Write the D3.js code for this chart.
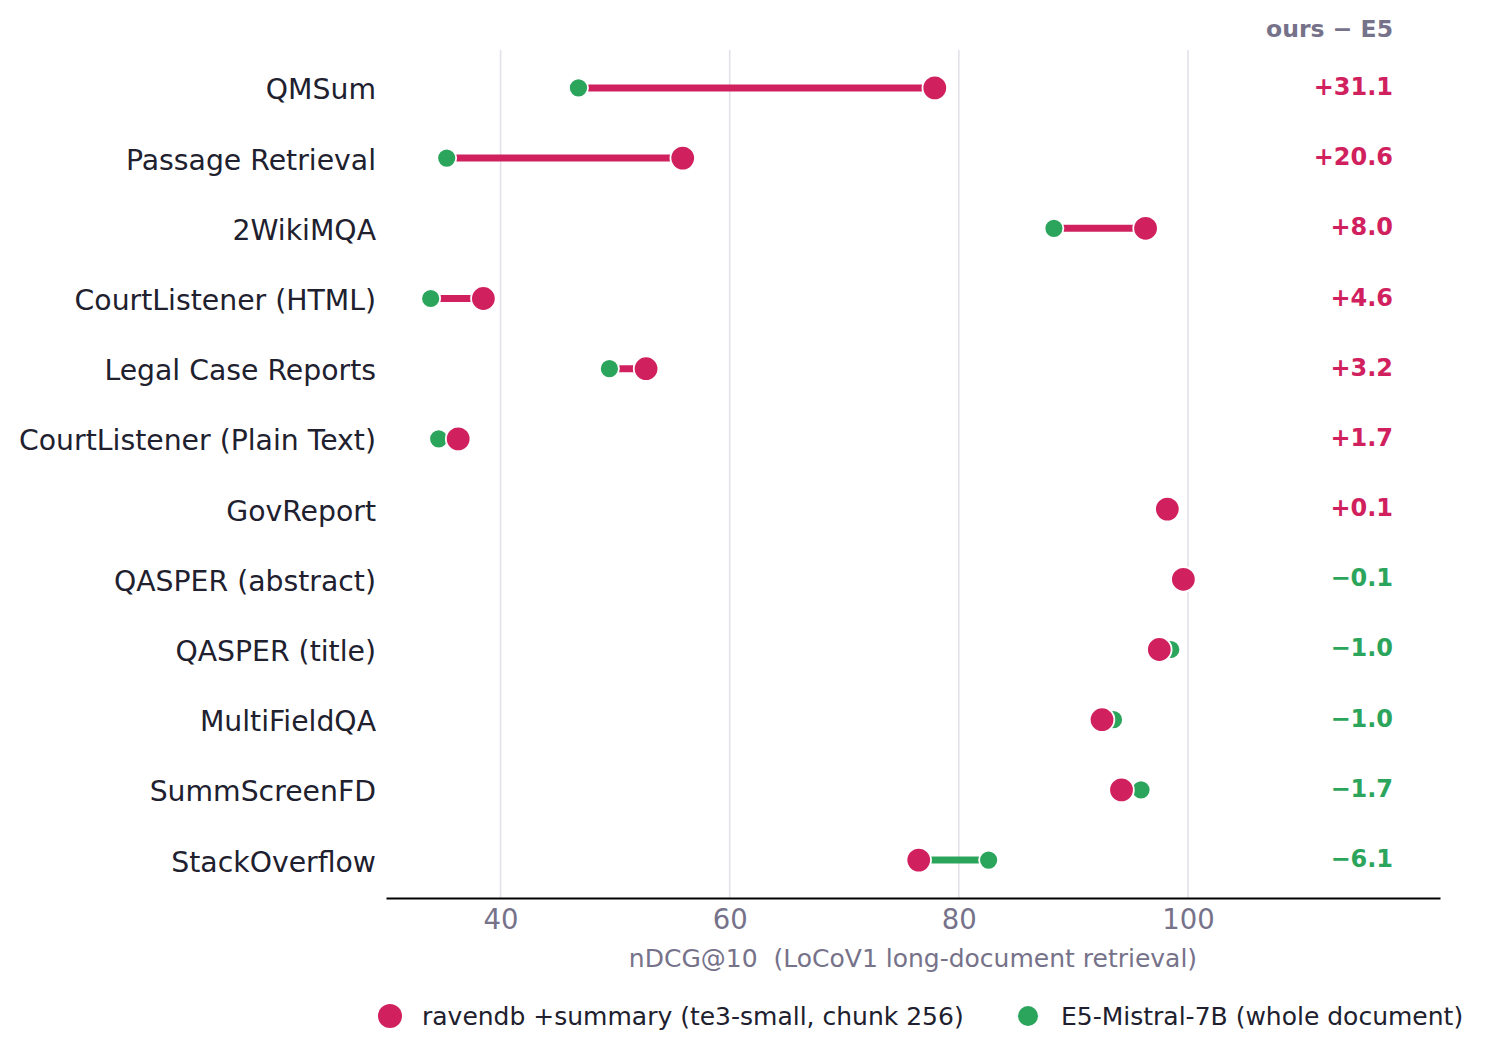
<!DOCTYPE html>
<html>
<head>
<meta charset="utf-8">
<script src="https://cdn.jsdelivr.net/npm/d3@7/dist/d3.min.js"></script>
<style>
  html, body { margin: 0; padding: 0; background: #ffffff; }
  svg { display: block; font-family: "DejaVu Sans", sans-serif; }
</style>
</head>
<body>
<svg id="chart" width="1492" height="1061"></svg>
<script>
const categories = [
  "QMSum", "Passage Retrieval", "2WikiMQA", "CourtListener (HTML)",
  "Legal Case Reports", "CourtListener (Plain Text)", "GovReport",
  "QASPER (abstract)", "QASPER (title)", "MultiFieldQA", "SummScreenFD", "StackOverflow"
];
const oursValues = [77.9, 55.9, 96.3, 38.5, 52.7, 36.3, 98.2, 99.6, 97.5, 92.5, 94.2, 76.5];
const e5Values   = [46.8, 35.3, 88.3, 33.9, 49.5, 34.6, 98.1, 99.7, 98.5, 93.5, 95.9, 82.6];
const xTicks = [40, 60, 80, 100];
const seriesNames = ["ravendb +summary (te3-small, chunk 256)", "E5-Mistral-7B (whole document)"];
const xLabel = "nDCG@10  (LoCoV1 long-document retrieval)";
const diffHeader = "ours \u2212 E5";

(function () {
const RED = "#D0215E", GREEN = "#2CA55C", DARK = "#20202e", GRAY = "#76728a", GRID = "#e2e2ea";

const rows = categories.map((c, i) => ({ cat: c, ours: oursValues[i], e5: e5Values[i] }));

const svg = d3.select("#chart");
const mLeft = 386, mRight = 1440, mTop = 50, mBottom = 898;

const x = d3.scaleLinear().domain([30, 122]).range([mLeft, mRight]);
const y = d3.scalePoint().domain(categories).range([mTop, mBottom]).padding(0.54);

// grid
svg.append("g").selectAll("line").data(xTicks).join("line")
  .attr("x1", d => x(d)).attr("x2", d => x(d))
  .attr("y1", mTop).attr("y2", mBottom)
  .attr("stroke", GRID).attr("stroke-width", 1.6);

// x axis
const xAxis = d3.axisBottom(x).tickValues(xTicks).tickSize(0).tickPadding(11).tickFormat(d3.format("d"));
const gx = svg.append("g").attr("transform", `translate(0,${mBottom})`).call(xAxis);
gx.select(".domain").attr("stroke", "#000").attr("stroke-width", 2);
gx.selectAll("text").attr("fill", GRAY).attr("font-size", 27.5).attr("font-family", "DejaVu Sans");

svg.append("text").attr("x", (mLeft + mRight) / 2).attr("y", 958)
  .attr("text-anchor", "middle").attr("dominant-baseline", "central")
  .attr("xml:space", "preserve").style("white-space", "pre")
  .attr("fill", GRAY).attr("font-size", 25).text(xLabel);

// y labels
svg.append("g").selectAll("text").data(categories).join("text")
  .attr("x", mLeft - 10).attr("y", d => y(d) + 2)
  .attr("text-anchor", "end").attr("dominant-baseline", "central")
  .attr("fill", DARK).attr("font-size", 28.3).text(d => d);

// connecting lines
svg.append("g").selectAll("line").data(rows).join("line")
  .attr("x1", d => x(d.e5)).attr("x2", d => x(d.ours))
  .attr("y1", d => y(d.cat)).attr("y2", d => y(d.cat))
  .attr("stroke", d => d.ours - d.e5 >= 0 ? RED : GREEN)
  .attr("stroke-width", 7);

// E5 dots
svg.append("g").selectAll("circle").data(rows).join("circle")
  .attr("cx", d => x(d.e5)).attr("cy", d => y(d.cat)).attr("r", 9.5)
  .attr("fill", GREEN).attr("stroke", "#fff").attr("stroke-width", 1.8);

// ours dots
svg.append("g").selectAll("circle").data(rows).join("circle")
  .attr("cx", d => x(d.ours)).attr("cy", d => y(d.cat)).attr("r", 12.3)
  .attr("fill", RED).attr("stroke", "#fff").attr("stroke-width", 1.8);

// diff labels
const fmtDiff = v => (v >= 0 ? "+" : "\u2212") + Math.abs(v).toFixed(1);
svg.append("g").selectAll("text").data(rows).join("text")
  .attr("x", 1393).attr("y", d => y(d.cat) - 1)
  .attr("text-anchor", "end").attr("dominant-baseline", "central")
  .attr("font-weight", "bold").attr("font-size", 24)
  .attr("fill", d => (d.ours - d.e5) >= 0 ? RED : GREEN)
  .text(d => fmtDiff(Math.round((d.ours - d.e5) * 10) / 10));

svg.append("text").attr("x", 1393).attr("y", 29)
  .attr("text-anchor", "end").attr("dominant-baseline", "central")
  .attr("font-weight", "bold").attr("font-size", 23.5).attr("fill", GRAY)
  .text(diffHeader);

// legend
const legend = svg.append("g");
const legItems = [
  { name: seriesNames[0], color: RED, r: 12, cx: 390, tx: 422 },
  { name: seriesNames[1], color: GREEN, r: 10, cx: 1028, tx: 1061 }
];
legItems.forEach(it => {
  legend.append("circle").attr("cx", it.cx).attr("cy", 1016).attr("r", it.r).attr("fill", it.color);
  legend.append("text").attr("x", it.tx).attr("y", 1016).attr("dominant-baseline", "central")
    .attr("fill", DARK).attr("font-size", 25).text(it.name);
});
})();
</script>
</body>
</html>
